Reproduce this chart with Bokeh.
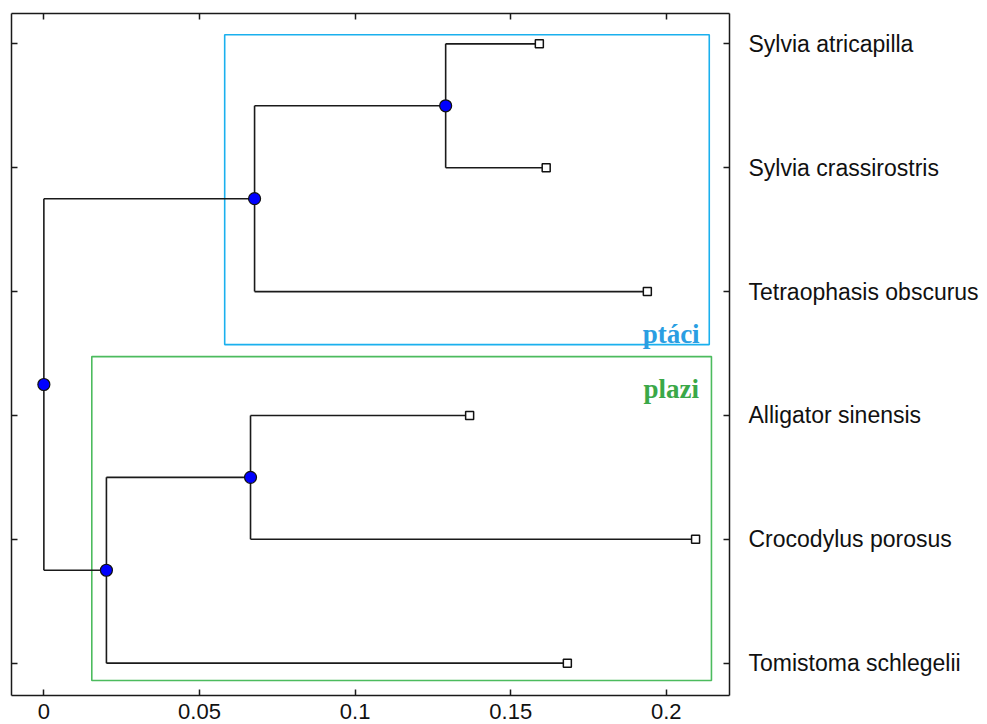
from bokeh.plotting import figure
from bokeh.models import LinearAxis, Range1d, FixedTicker
from bokeh.core.properties import value
from bokeh.embed import file_html
from bokeh.resources import INLINE

# ---------------- data ----------------
taxa = ["Sylvia atricapilla", "Sylvia crassirostris", "Tetraophasis obscurus",
        "Alligator sinensis", "Crocodylus porosus", "Tomistoma schlegelii"]
leaf_depth = [0.1592, 0.1614, 0.1939, 0.1368, 0.2094, 0.1682]
leaf_parent = ["sylvia", "sylvia", "aves", "croc", "croc", "reptilia"]

node_names = ["root", "aves", "sylvia", "reptilia", "croc"]
node_depth = [0.0, 0.0677, 0.1291, 0.0201, 0.0664]
node_parent = [None, "root", "aves", "root", "reptilia"]

x_ticks = [0, 0.05, 0.1, 0.15, 0.2]
x_tick_labels = ["0", "0.05", "0.1", "0.15", "0.2"]

groups = ["ptáci", "plazi"]
group_left = [0.0581, 0.0154]
group_right = [0.2138, 0.2145]
group_top = [6.074, 3.475]
group_bottom = [3.572, 0.860]
group_label_x = [0.2107, 0.2105]
group_label_y = [3.661, 3.217]
group_line_colors = ["#1AB0EE", "#4CBB5E"]
group_text_colors = ["#2A9EE2", "#3AA848"]

# ---------------- tree geometry ----------------
n = len(taxa)
leaf_y = [float(n - i) for i in range(n)]

xpos = {}
ypos = {}
children = {nm: [] for nm in node_names}
for t, d, par, y in zip(taxa, leaf_depth, leaf_parent, leaf_y):
    xpos[t] = d
    ypos[t] = y
    children[par].append(t)
for nm, d, par in zip(node_names, node_depth, node_parent):
    xpos[nm] = d
    if par is not None:
        children[par].append(nm)


def node_y(nm):
    if nm in ypos:
        return ypos[nm]
    ys = [node_y(c) for c in children[nm]]
    ypos[nm] = sum(ys) / len(ys)
    return ypos[nm]


for nm in node_names:
    node_y(nm)

x0s, y0s, x1s, y1s = [], [], [], []
for par, kids in children.items():
    for c in kids:
        # horizontal branch
        x0s.append(xpos[par]); y0s.append(ypos[c]); x1s.append(xpos[c]); y1s.append(ypos[c])
        # vertical connector
        x0s.append(xpos[par]); y0s.append(ypos[c]); x1s.append(xpos[par]); y1s.append(ypos[par])

# ---------------- figure ----------------
p = figure(width=987, height=724, output_backend="svg", toolbar_location=None,
           x_range=Range1d(-0.0104, 0.2203), y_range=Range1d(0.739, 6.245),
           x_axis_location=None, y_axis_location=None,
           min_border_left=11, min_border_top=13, min_border_right=258, min_border_bottom=29)
p.outline_line_color = None
p.xgrid.visible = False
p.ygrid.visible = False
p.background_fill_color = "white"
p.border_fill_color = "white"

# group boxes
p.quad(left=group_left, right=group_right, top=group_top, bottom=group_bottom,
       fill_color=None, line_color=group_line_colors, line_width=1.6)
p.text(x=group_label_x, y=group_label_y, text=groups, text_color=group_text_colors,
       text_font=value("Liberation Serif"), text_font_style="bold", text_font_size="27px",
       text_align="right", text_baseline="alphabetic")

# tree branches
p.segment(x0=x0s, y0=y0s, x1=x1s, y1=y1s, line_color="#1a1a1a", line_width=1.6)

# leaves and nodes
p.scatter(x=leaf_depth, y=leaf_y, marker="square", size=8, fill_color="white",
          line_color="#111111", line_width=1.5)
p.scatter(x=[xpos[nm] for nm in node_names], y=[ypos[nm] for nm in node_names],
          marker="circle", size=12, fill_color="#0000FF", line_color="#111111", line_width=1.2)

label_font = "Liberation Sans"


def style_axis(ax, tick_in):
    ax.axis_line_color = "#1a1a1a"
    ax.axis_line_width = 1.5
    ax.major_tick_line_color = "#1a1a1a"
    ax.major_tick_line_width = 1.5
    ax.major_tick_in = tick_in
    ax.major_tick_out = 0
    ax.minor_tick_line_color = None
    ax.major_label_text_font = label_font
    ax.major_label_text_color = "#111111"


xb = LinearAxis(ticker=FixedTicker(ticks=x_ticks),
                major_label_overrides={t: l for t, l in zip(x_ticks, x_tick_labels)})
style_axis(xb, 6)
xb.major_label_text_font_size = "22px"
xb.major_label_standoff = 8
p.add_layout(xb, "below")

xt = LinearAxis(ticker=FixedTicker(ticks=x_ticks),
                major_label_overrides={t: "" for t in x_ticks})
style_axis(xt, 6)
xt.major_label_text_font_size = "0px"
xt.major_label_standoff = 0
p.add_layout(xt, "above")

yl = LinearAxis(ticker=FixedTicker(ticks=leaf_y),
                major_label_overrides={y: "" for y in leaf_y})
style_axis(yl, 6)
yl.major_label_text_font_size = "0px"
yl.major_label_standoff = 0
p.add_layout(yl, "left")

yr = LinearAxis(ticker=FixedTicker(ticks=leaf_y),
                major_label_overrides={y: t for y, t in zip(leaf_y, taxa)})
style_axis(yr, 6)
yr.major_label_text_font_size = "23px"
yr.major_label_standoff = 19
p.add_layout(yr, "right")

open("out.html", "w").write(file_html(p, INLINE))
